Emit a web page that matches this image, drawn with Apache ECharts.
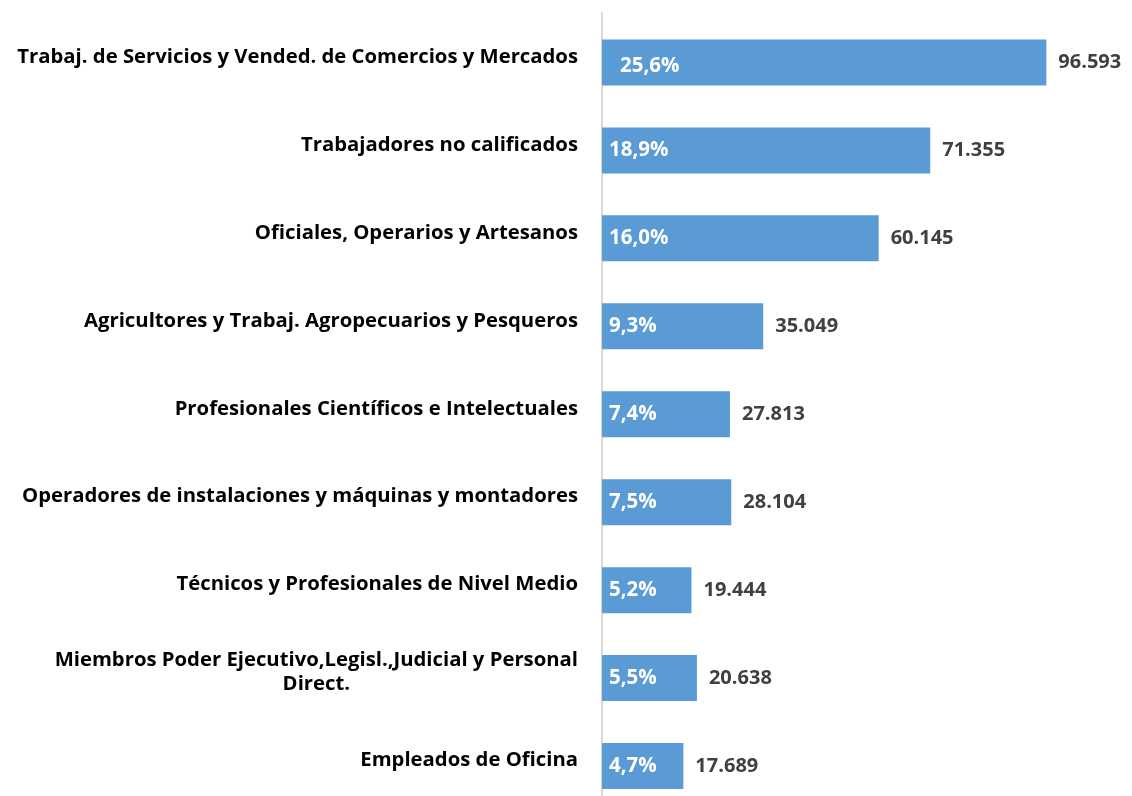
<!DOCTYPE html>
<html><head><meta charset="utf-8">
<script src="https://cdn.jsdelivr.net/npm/echarts@6/dist/echarts.min.js"></script>
<style>html,body{margin:0;padding:0;background:#fff;overflow:hidden}#c{width:1132px;height:840px}</style>
</head><body><div id="c"></div>
<script>
const categories = [
  'Trabaj. de Servicios y Vended. de Comercios y Mercados',
  'Trabajadores no calificados',
  'Oficiales, Operarios y Artesanos',
  'Agricultores y Trabaj. Agropecuarios y Pesqueros',
  'Profesionales Científicos e Intelectuales',
  'Operadores de instalaciones y máquinas y montadores',
  'Técnicos y Profesionales de Nivel Medio',
  'Miembros Poder Ejecutivo,Legisl.,Judicial y Personal\nDirect.',
  'Empleados de Oficina'
];
const values = [96593, 71355, 60145, 35049, 27813, 28104, 19444, 20638, 17689];
const percents = ['25,6%', '18,9%', '16,0%', '9,3%', '7,4%', '7,5%', '5,2%', '5,5%', '4,7%'];

const FONT = 'Open Sans';
const fmt = v => String(v).replace(/\B(?=(\d{3})+(?!\d))/g, '.');

const chart = echarts.init(document.getElementById('c'));
chart.setOption({
  animation: false,
  grid: [
    {left: 602, right: 70, top: 13, height: 791.5},
    {left: 602, right: 70, top: 18.5, height: 791.5}
  ],
  xAxis: [
    {gridIndex: 0, type: 'value', min: 0, max: 100000, show: false},
    {gridIndex: 1, type: 'value', min: 0, max: 100000, show: false}
  ],
  yAxis: [
    {
      gridIndex: 0, type: 'category', inverse: true, data: categories,
      axisLine: {show: true, lineStyle: {color: '#d9d9d9', width: 2}},
      axisTick: {show: false}, splitLine: {show: false},
      axisLabel: {
        margin: 24,
        formatter: v => v.split('\n').map(s => '{a|' + s + '}').join('\n'),
        rich: {a: {align: 'center', fontFamily: FONT, fontWeight: 'bold', fontSize: 20.3, color: '#000', lineHeight: 24}}
      }
    },
    {gridIndex: 1, type: 'category', inverse: true, data: categories, show: false}
  ],
  series: [
    {
      type: 'bar', xAxisIndex: 1, yAxisIndex: 1, data: values,
      barWidth: 46, barGap: '-100%',
      itemStyle: {color: '#5b9bd5'},
      label: {show: true, position: 'right', distance: 12, formatter: p => fmt(p.value),
        fontFamily: FONT, fontWeight: 'bold', fontSize: 20, color: '#404040'},
      silent: true
    },
    {
      type: 'bar', xAxisIndex: 1, yAxisIndex: 1,
      data: values.map((v, i) => i === 0 ? {value: v, label: {offset: [11, 3.5]}} : v),
      barWidth: 46, barGap: '-100%',
      itemStyle: {color: 'rgba(0,0,0,0)'},
      label: {show: true, position: 'insideLeft', distance: 7, formatter: p => percents[p.dataIndex],
        fontFamily: FONT, fontWeight: 'bold', fontSize: 20.5, color: '#fff'},
      silent: true
    }
  ]
});
</script></body></html>
